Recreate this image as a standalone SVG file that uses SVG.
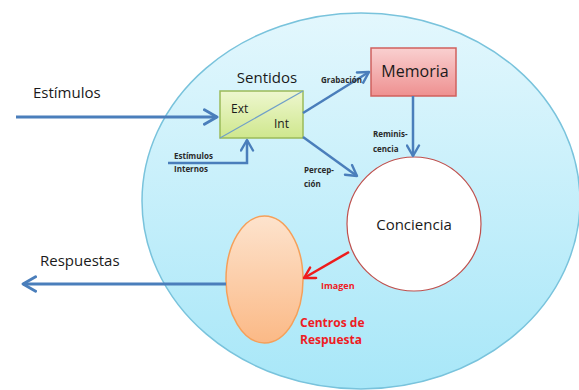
<svg xmlns="http://www.w3.org/2000/svg" width="579" height="390" viewBox="0 0 579 390">
<defs>
<linearGradient id="gBig" x1="0" y1="0" x2="0" y2="1"><stop offset="0" stop-color="#e3f7fd"/><stop offset="1" stop-color="#a8e7f8"/></linearGradient>
<linearGradient id="gGreen" x1="0" y1="0" x2="0" y2="1"><stop offset="0" stop-color="#eef7cf"/><stop offset="1" stop-color="#cfe78d"/></linearGradient>
<linearGradient id="gPink" x1="0" y1="0" x2="0" y2="1"><stop offset="0" stop-color="#f9d0d0"/><stop offset="1" stop-color="#ee9090"/></linearGradient>
<linearGradient id="gOrange" x1="0" y1="0" x2="0" y2="1"><stop offset="0" stop-color="#fde3cd"/><stop offset="1" stop-color="#fbb986"/></linearGradient>
<marker id="ab" viewBox="0 0 10 10" refX="8" refY="5" markerWidth="6" markerHeight="6" orient="auto" markerUnits="strokeWidth"><path d="M1,1 L8,5 L1,9" fill="none" stroke="#4a7ebb" stroke-width="1.6" stroke-linecap="round" stroke-linejoin="round"/></marker>
<marker id="abs" viewBox="0 0 10 10" refX="8" refY="5" markerWidth="6" markerHeight="6" orient="auto" markerUnits="strokeWidth"><path d="M1,1 L8,5 L1,9" fill="none" stroke="#4a7ebb" stroke-width="1.6" stroke-linecap="round" stroke-linejoin="round"/></marker>
<marker id="ar" viewBox="0 0 10 10" refX="8" refY="5" markerWidth="6" markerHeight="6" orient="auto" markerUnits="strokeWidth"><path d="M1,1 L8,5 L1,9" fill="none" stroke="#ee1c1c" stroke-width="1.6" stroke-linecap="round" stroke-linejoin="round"/></marker>
</defs>
<style>
text{font-family:"Open Sans","Liberation Sans",sans-serif;fill:#1a1a1a}
.big{font-size:15px}
.sm{font-size:8px;font-weight:bold;fill:#2a2a2a}
.red{fill:#ee1c24;font-weight:bold}
.conn{fill:none;stroke:#4a7ebb;stroke-width:3}
.connt{fill:none;stroke:#4a7ebb;stroke-width:2.5}
</style>
<rect width="579" height="390" fill="#ffffff"/>
<g id="mind">
<ellipse cx="361" cy="201" rx="219" ry="188" fill="url(#gBig)" stroke="#79c3dc" stroke-width="1.5"/>
</g>
<g id="sentidos">
<rect x="220" y="91" width="83" height="47" fill="url(#gGreen)" stroke="#9bbb59" stroke-width="1.5"/>
<line x1="220" y1="138" x2="303" y2="91" stroke="#6f9fc9" stroke-width="1.2"/>
<text x="267" y="83" class="big" text-anchor="middle">Sentidos</text>
<text x="231" y="113" style="font-size:12px">Ext</text>
<text x="274" y="128" style="font-size:12px">Int</text>
</g>
<g id="memoria">
<rect x="371" y="48" width="85" height="48" fill="url(#gPink)" stroke="#d0605d" stroke-width="1.5"/>
<text x="415" y="77" text-anchor="middle" style="font-size:16px">Memoria</text>
</g>
<g id="conciencia">
<circle cx="414" cy="224" r="67" fill="#ffffff" stroke="#c0504d" stroke-width="1.2"/>
<text x="414" y="230" text-anchor="middle" style="font-size:15px">Conciencia</text>
</g>
<g id="centros">
<ellipse cx="264.5" cy="279.5" rx="38.5" ry="63.5" fill="url(#gOrange)" stroke="#f5a05a" stroke-width="1.5"/>
<text x="300" y="327" class="red" style="font-size:12px">Centros de</text>
<text x="300" y="344" class="red" style="font-size:12px">Respuesta</text>
</g>
<g id="connectors">
<line x1="16" y1="117" x2="217" y2="117" class="conn" marker-end="url(#ab)"/>
<line x1="226" y1="284" x2="23" y2="284" class="conn" marker-end="url(#ab)"/>
<polyline points="168,163 247,163 247,140" class="connt" marker-end="url(#abs)"/>
<line x1="303" y1="113" x2="369" y2="72" class="connt" marker-end="url(#abs)"/>
<line x1="303" y1="137" x2="357" y2="176" class="connt" marker-end="url(#abs)"/>
<line x1="413" y1="96" x2="413" y2="156" class="connt" marker-end="url(#abs)"/>
<line x1="349" y1="252" x2="304" y2="278" fill="none" stroke="#ee1c1c" stroke-width="2.5" marker-end="url(#ar)"/>
</g>
<g id="labels">
<text x="33" y="98" class="big">Estímulos</text>
<text x="40" y="266" class="big">Respuestas</text>
<text x="321" y="83" class="sm">Grabación</text>
<text x="373" y="137" class="sm">Reminis-</text>
<text x="373" y="152" class="sm">cencia</text>
<text x="304" y="173" class="sm">Percep-</text>
<text x="304" y="187" class="sm">ción</text>
<text x="174" y="159" class="sm">Estímulos</text>
<text x="174" y="172" class="sm">Internos</text>
<text x="321" y="289" class="red" style="font-size:9px">Imagen</text>
</g>
</svg>
